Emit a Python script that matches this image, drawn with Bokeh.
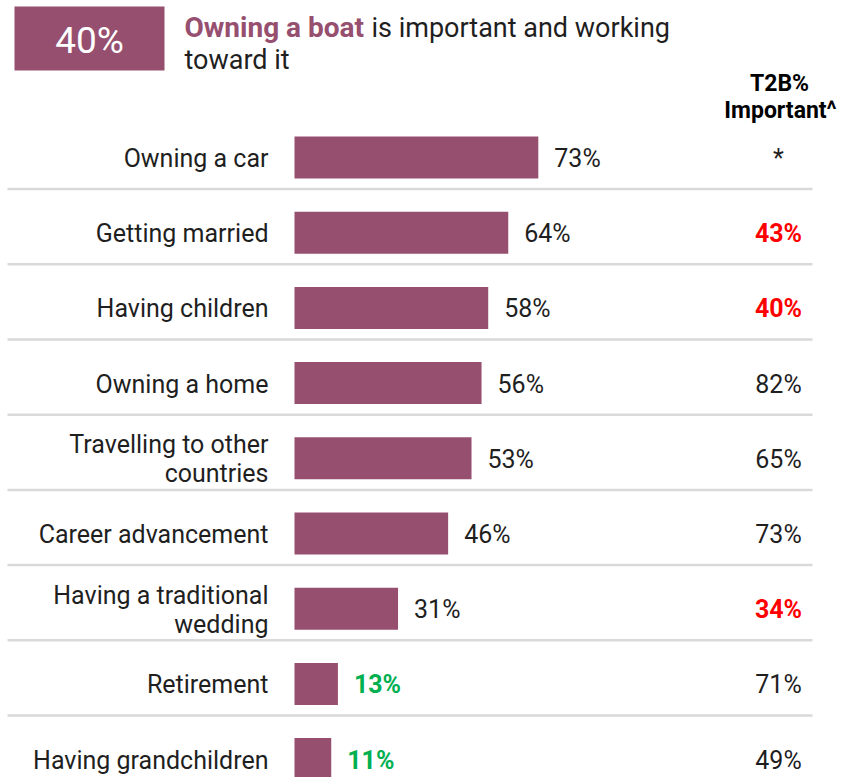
from bokeh.plotting import figure
from bokeh.models import Range1d, ColumnDataSource
from bokeh.core.properties import value
from bokeh.embed import file_html
from bokeh.resources import INLINE

# ---------------- data ----------------
categories = [
    "Owning a car",
    "Getting married",
    "Having children",
    "Owning a home",
    "Travelling to other\ncountries",
    "Career advancement",
    "Having a traditional\nwedding",
    "Retirement",
    "Having grandchildren",
]
values = [73, 64, 58, 56, 53, 46, 31, 13, 11]
value_highlight = [False, False, False, False, False, False, False, True, True]
t2b_labels = ["*", "43%", "40%", "82%", "65%", "73%", "34%", "71%", "49%"]
t2b_highlight = [False, True, True, False, False, False, True, False, False]

headline_value = "40%"
title_bold = "Owning a boat"
title_rest = "is important and working"
title_line2 = "toward it"
column_header = ["T2B%", "Important^"]

# ---------------- style ----------------
BAR = "#964F6F"
DARK = "#1F1F1F"
RED = "#FF0000"
GREEN = "#00B050"
SEP = "#D9D9D9"
FONT = value("Roboto")

W, H = 842, 777
PX_PER_PCT = 3.34      # horizontal scale (pixels per percentage point)
BAR_X0 = 294           # page x of bar baseline
ROW0 = 157             # page y of first row centre
ROW_H = 75.2           # row pitch in pixels


def px2x(px):
    return (px - BAR_X0) / PX_PER_PCT


def px2y(py):
    return (py - ROW0) / ROW_H


idx = list(range(len(categories)))

p = figure(
    width=W, height=H,
    x_range=Range1d(px2x(0), px2x(W)),
    y_range=Range1d(px2y(H), px2y(0)),
    output_backend="svg", toolbar_location=None,
    min_border=0, min_border_left=0, min_border_right=0,
    min_border_top=0, min_border_bottom=0,
)
p.axis.visible = False
p.xgrid.visible = False
p.ygrid.visible = False
p.outline_line_color = None
p.background_fill_color = "white"
p.border_fill_color = "white"

# separators
sep_y = [i + 0.5 - 6 / ROW_H for i in idx[:-1]]
p.segment(x0=[px2x(7)] * len(sep_y), x1=[px2x(812)] * len(sep_y),
          y0=sep_y, y1=sep_y, line_color=SEP, line_width=2.5)

# bars
src = ColumnDataSource(dict(
    y=idx,
    cat=categories,
    v=values,
    vlab=[f"{v}%" for v in values],
    vcol=[GREEN if h else DARK for h in value_highlight],
    vsty=["bold" if h else "normal" for h in value_highlight],
    t2b=t2b_labels,
    tcol=[RED if h else DARK for h in t2b_highlight],
    tsty=["bold" if h else "normal" for h in t2b_highlight],
))
p.hbar(y="y", left=0, right="v", height=42 / ROW_H, fill_color=BAR,
       line_color=None, source=src)

# value labels
p.text(x="v", y="y", text="vlab", source=src, x_offset=16, y_offset=1,
       text_align="left", text_baseline="middle", text_font=FONT,
       text_font_size="25px", text_color="vcol", text_font_style="vsty")

# category labels
p.text(x=px2x(268), y="y", text="cat", source=src, y_offset=1,
       text_align="right", text_baseline="middle", text_font=FONT,
       text_font_size="25px", text_color=DARK, text_line_height=1.0)

# T2B column
p.text(x=px2x(778), y="y", text="t2b", source=src, y_offset=1,
       text_align="center", text_baseline="middle", text_font=FONT,
       text_font_size="25px", text_color="tcol", text_font_style="tsty")

p.text(x=[px2x(779), px2x(780)], y=[px2y(83), px2y(110)], text=column_header,
       text_align="center", text_baseline="middle", text_font=FONT,
       text_font_size="23px", text_font_style="bold", text_color="black")

# headline box
p.quad(left=[px2x(14)], right=[px2x(164)], top=[px2y(6)], bottom=[px2y(70)],
       fill_color=BAR, line_color=None)
p.text(x=[px2x(89)], y=[px2y(40)], text=[headline_value],
       text_align="center", text_baseline="middle", text_font=FONT,
       text_font_size="37px", text_color="white")

# title
p.text(x=[px2x(184)], y=[px2y(27)], text=[title_bold],
       text_align="left", text_baseline="middle", text_font=FONT,
       text_font_size="28px", text_font_style="bold", text_color=BAR)
p.text(x=[px2x(371)], y=[px2y(27)], text=[title_rest],
       text_align="left", text_baseline="middle", text_font=FONT,
       text_font_size="27px", text_color=DARK)
p.text(x=[px2x(184)], y=[px2y(59)], text=[title_line2],
       text_align="left", text_baseline="middle", text_font=FONT,
       text_font_size="27px", text_color=DARK)

open("out.html", "w").write(file_html(p, INLINE))
